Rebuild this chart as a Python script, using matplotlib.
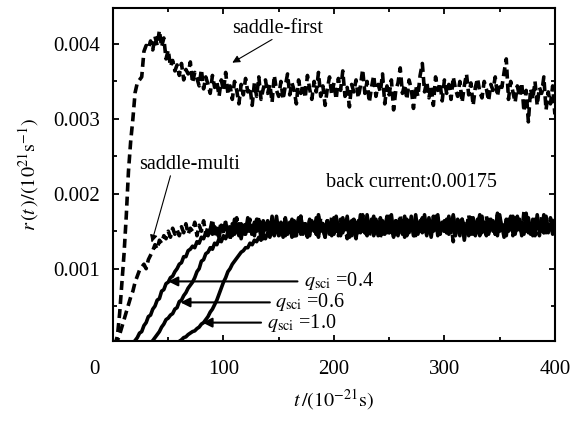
import numpy as np
import matplotlib
matplotlib.use("Agg")
import matplotlib.pyplot as plt

plt.rcParams['font.family'] = ['Liberation Serif', 'DejaVu Serif']
plt.rcParams['mathtext.fontset'] = 'stix'

#===========================================================================================================
#INPUTS  (rates in units of 1e-5 x 10^21 s^-1, sampled every 2 x 10^-21 s from t = 0)
#===========================================================================================================
t_step = 2

saddle_first = [0, 0, 10, 40, 80, 120, 170, 230, 270, 300,
                335, 348, 352, 356, 390, 398, 394, 404, 392, 410,
                398, 418, 396, 408, 380, 392, 370, 378, 364, 372,
                358, 374, 352, 366, 360, 376, 348, 362, 354, 344,
                366, 340, 356, 346, 334, 358, 342, 350, 330, 352,
                338, 362, 334, 344, 326, 350, 338, 320, 346, 332,
                354, 336, 342, 318, 348, 330, 356, 326, 340, 352,
                334, 346, 322, 358, 338, 330, 350, 326, 344, 360,
                332, 348, 338, 320, 352, 334, 346, 328, 358, 340,
                326, 350, 336, 362, 330, 344, 318, 340, 356, 332,
                348, 326, 354, 338, 364, 330, 342, 316, 346, 336,
                352, 328, 344, 366, 334, 350, 322, 342, 358, 330,
                346, 336, 360, 320, 344, 332, 352, 312, 338, 348,
                368, 334, 346, 326, 352, 340, 314, 344, 330, 358,
                374, 336, 350, 328, 344, 318, 356, 338, 348, 324,
                352, 334, 346, 326, 356, 340, 330, 350, 322, 344,
                360, 332, 348, 318, 342, 354, 336, 328, 350, 340,
                324, 346, 338, 356, 330, 348, 342, 362, 380, 326,
                350, 336, 322, 344, 330, 348, 310, 338, 296, 340,
                326, 350, 318, 342, 334, 356, 312, 336, 320, 344,
                306]

saddle_multi = [0, 0, 4, 12, 22, 32, 42, 52, 62, 70,
                82, 90, 98, 102, 106, 100, 112, 118, 124, 132,
                126, 138, 134, 144, 140, 150, 142, 154, 146, 152,
                144, 156, 148, 160, 146, 154, 150, 162, 144, 158,
                150, 164, 146, 156, 152, 166, 144, 158, 150, 162,
                146, 164, 150, 140, 160, 152, 168, 146, 156, 142,
                162, 150, 166, 144, 158, 152, 170, 148, 140, 160,
                150, 166, 146, 156, 162, 142, 158, 150, 168, 146,
                154, 164, 140, 158, 150, 170, 146, 160, 152, 144,
                164, 150, 158, 142, 168, 148, 156, 162, 146, 170,
                152, 160, 144, 166, 150, 156, 140, 162, 154, 168,
                146, 158, 150, 172, 148, 160, 144, 156, 164, 150,
                166, 142, 158, 152, 170, 148, 156, 146, 164, 154,
                172, 150, 160, 144, 166, 152, 158, 140, 162, 150,
                168, 146, 156, 162, 148, 170, 152, 158, 144, 164,
                150, 166, 146, 160, 136, 156, 150, 168, 148, 160,
                154, 172, 146, 158, 150, 166, 144, 162, 152, 170,
                148, 158, 164, 146, 172, 152, 160, 148, 166, 150,
                162, 144, 168, 152, 158, 148, 176, 150, 160, 146,
                166, 152, 158, 144, 170, 150, 162, 148, 168, 154,
                160]

q_04 = [0, 0, 0, 0, 0, 0, 0, 0, 0, 1,
        4, 8, 14, 16, 24, 28, 36, 38, 46, 50,
        58, 60, 70, 72, 80, 82, 88, 90, 96, 100,
        106, 108, 116, 116, 124, 126, 130, 128, 136, 134,
        142, 140, 148, 144, 152, 146, 156, 148, 142, 158,
        150, 162, 146, 156, 144, 166, 152, 160, 140, 158,
        148, 168, 154, 146, 162, 150, 158, 142, 164, 152,
        160, 146, 170, 150, 156, 144, 162, 154, 166, 148,
        158, 142, 164, 150, 168, 146, 156, 160, 144, 166,
        152, 158, 146, 172, 150, 160, 142, 164, 154, 148,
        168, 150, 156, 144, 162, 152, 170, 146, 158, 150,
        140, 164, 152, 160, 148, 172, 150, 156, 144, 166,
        150, 162, 146, 158, 168, 148, 154, 142, 164, 152,
        160, 146, 170, 154, 150, 162, 144, 166, 152, 158,
        148, 172, 150, 160, 142, 164, 154, 168, 146, 156,
        162, 148, 170, 152, 158, 144, 166, 150, 160, 138,
        158, 150, 168, 146, 162, 154, 172, 148, 156, 144,
        166, 152, 160, 146, 174, 150, 158, 142, 164, 152,
        170, 148, 160, 152, 166, 144, 158, 154, 168, 150,
        162, 146, 172, 152, 158, 148, 166, 154, 160, 146,
        164]

q_06 = [0, 0, 0, 0, 0, 0, 0, 0, 0, 0,
        0, 0, 0, 0, 0, 0, 0, 1, 4, 8,
        12, 16, 22, 26, 32, 34, 38, 40, 46, 48,
        56, 58, 64, 68, 74, 78, 82, 88, 96, 100,
        110, 112, 120, 122, 128, 126, 134, 132, 140, 136,
        144, 140, 148, 142, 152, 146, 156, 144, 160, 150,
        146, 162, 150, 158, 144, 166, 152, 160, 148, 156,
        164, 146, 158, 152, 170, 148, 156, 142, 162, 154,
        150, 166, 146, 160, 154, 170, 148, 158, 144, 164,
        156, 150, 168, 146, 160, 152, 142, 164, 150, 158,
        146, 170, 154, 160, 148, 164, 152, 158, 144, 166,
        154, 160, 148, 168, 150, 144, 162, 156, 170, 148,
        158, 152, 164, 146, 160, 154, 172, 148, 158, 144,
        166, 150, 156, 162, 148, 170, 152, 160, 146, 164,
        154, 160, 144, 168, 150, 158, 152, 172, 146, 162,
        150, 164, 156, 148, 170, 152, 160, 144, 166, 154,
        148, 162, 150, 168, 144, 160, 154, 170, 150, 158,
        146, 164, 152, 160, 148, 172, 154, 158, 144, 166,
        152, 160, 148, 170, 154, 162, 146, 168, 150, 158,
        144, 166, 154, 160, 150, 172, 148, 158, 152, 164,
        156]

q_10 = [0, 0, 0, 0, 0, 0, 0, 0, 0, 0,
        0, 0, 0, 0, 0, 0, 0, 0, 0, 0,
        0, 0, 0, 0, 0, 0, 0, 0, 0, 1,
        3, 5, 8, 9, 12, 14, 16, 17, 20, 22,
        26, 28, 32, 36, 42, 46, 52, 58, 66, 74,
        82, 88, 96, 100, 106, 110, 114, 118, 122, 124,
        128, 128, 134, 132, 138, 136, 142, 138, 146, 140,
        148, 142, 152, 144, 156, 146, 150, 158, 144, 154,
        162, 148, 156, 144, 166, 150, 160, 152, 142, 164,
        154, 158, 146, 170, 152, 160, 148, 164, 156, 144,
        166, 150, 158, 146, 168, 154, 160, 142, 164, 152,
        158, 148, 172, 150, 162, 146, 156, 166, 152, 160,
        144, 168, 154, 158, 148, 170, 150, 162, 146, 160,
        156, 164, 142, 166, 152, 158, 150, 172, 148, 160,
        152, 166, 146, 158, 162, 150, 170, 144, 160, 154,
        164, 148, 158, 152, 172, 146, 160, 154, 166, 150,
        158, 144, 168, 152, 160, 148, 170, 154, 162, 146,
        156, 166, 150, 160, 144, 168, 152, 158, 148, 164,
        154, 170, 146, 162, 152, 158, 150, 174, 148, 160,
        156, 144, 166, 152, 160, 148, 170, 150, 158, 154,
        162]

scale = 1e-5

#===========================================================================================================
#DRAW
#===========================================================================================================
fig = plt.figure(figsize=(5.78, 4.21), dpi=100)
ax = fig.add_axes([0.1955, 0.191, 0.7645, 0.790])

def series(vals):
    vals = np.array(vals, dtype=float) * scale
    return np.arange(len(vals)) * t_step, vals

for vals in (saddle_first, saddle_multi):
    t, r = series(vals)
    ax.plot(t, r, color="k", lw=2.6, dashes=(2.5, 1.4))
for vals in (q_04, q_06, q_10):
    t, r = series(vals)
    ax.plot(t, r, color="k", lw=2.6)

ax.set_xlim(0, 400)
ax.set_ylim(0.00004, 0.00448)
ax.set_xticks([100, 200, 300, 400])
ax.set_xticks([50, 150, 250, 350], minor=True)
ax.set_yticks([0.001, 0.002, 0.003, 0.004])
ax.set_yticklabels(["0.001", "0.002", "0.003", "0.004"])
ax.set_yticks([0.0005, 0.0015, 0.0025, 0.0035], minor=True)
ax.tick_params(which="both", direction="in", top=True, right=True, width=1.3, labelsize=15)
ax.tick_params(which="major", length=4)
ax.tick_params(which="minor", length=3)
ax.tick_params(axis="x", pad=14)
ax.tick_params(axis="y", pad=9)
for s in ax.spines.values():
    s.set_linewidth(1.5)

ax.text(-0.043, -0.087, "0", transform=ax.transAxes, ha="center", va="center", fontsize=15)

ax.set_xlabel(r"$t\,/(10^{-21}\mathrm{s})$", fontsize=14.5, labelpad=6)
ax.set_ylabel(r"$r\,(t\,)/(10^{21}\mathrm{s}^{-1})$", fontsize=14.5, labelpad=9)

# annotations
thin = dict(arrowstyle="-|>", color="k", lw=0.8, mutation_scale=11, shrinkA=0, shrinkB=0)
bold = dict(arrowstyle="-|>", color="k", lw=1.5, mutation_scale=14, shrinkA=0, shrinkB=0)

ax.text(149, 0.00421, "saddle-first", ha="center", va="center", fontsize=14.5)
ax.annotate("", xy=(108, 0.00375), xytext=(144, 0.00406), arrowprops=thin)

ax.text(69, 0.00239, "saddle-multi", ha="center", va="center", fontsize=14.5)
ax.annotate("", xy=(35, 0.00135), xytext=(52, 0.00224), arrowprops=thin)

ax.text(270, 0.00215, "back current:0.00175", ha="center", va="center", fontsize=14.5)

ax.annotate("", xy=(50, 0.00083), xytext=(167, 0.00083), arrowprops=bold)
ax.text(173, 0.00083, r"$q_{\mathrm{sci}}$ =0.4", ha="left", va="center", fontsize=14.5)
ax.annotate("", xy=(61, 0.00055), xytext=(142, 0.00055), arrowprops=bold)
ax.text(147, 0.00055, r"$q_{\mathrm{sci}}$ =0.6", ha="left", va="center", fontsize=14.5)
ax.annotate("", xy=(81, 0.00028), xytext=(134, 0.00028), arrowprops=bold)
ax.text(139, 0.00028, r"$q_{\mathrm{sci}}$ =1.0", ha="left", va="center", fontsize=14.5)

plt.savefig("out.png", dpi=100)
